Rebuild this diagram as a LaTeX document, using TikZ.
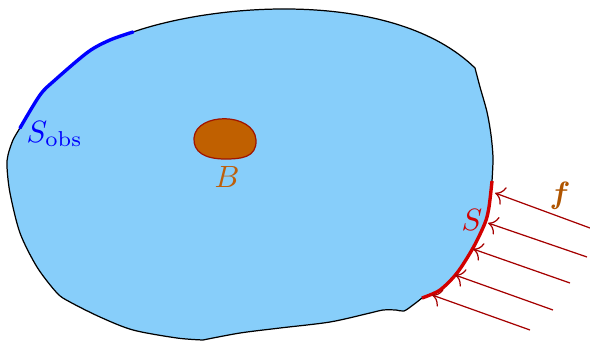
\documentclass[tikz,border=0pt]{standalone}
\usepackage{amsmath}
\usetikzlibrary{arrows.meta}
\definecolor{bodyfill}{RGB}{135,206,250}
\definecolor{blobfill}{RGB}{192,96,0}
\definecolor{blobline}{RGB}{160,20,0}
\definecolor{blabel}{RGB}{190,95,10}
\definecolor{flabel}{RGB}{175,85,0}
\definecolor{sred}{RGB}{210,0,0}
\definecolor{arrred}{RGB}{165,0,0}
\tikzset{
  boundary/.style={line width=0.4pt, draw=black},
  obsline/.style={line width=1.1pt, draw=blue, line cap=round},
  sline/.style={line width=1.1pt, draw=sred},
  force/.style={line width=0.4pt, draw=arrred, -{To[length=3pt,width=6pt]}},
}
\begin{document}
\begin{tikzpicture}[x=0.325pt,y=-0.325pt]
\useasboundingbox (0,0) rectangle (590,341);
% body
\path[boundary, fill=bodyfill]
  (133,32) .. controls (220,2) and (395,-10) .. (475,68)
  -- plot[smooth] coordinates {(475,68) (480,87) (487,112) (491,135) (493,158) (492,181)}
  -- plot[smooth] coordinates {(492,181) (489,207) (485,223) (473,248) (457,273) (440,290) (422,298)}
  -- plot[smooth] coordinates {(422,298) (413,305) (404,311) (396,310) (383,310) (370,313) (330,322) (280,328) (240,333) (203,340)}
  -- plot[smooth] coordinates {(203,340) (177,338) (133,330) (100,317) (70,302) (57,293) (37,267) (20,233) (10,193) (7,167) (8,155) (13,140) (20,128)}
  -- plot[smooth] coordinates {(20,128) (40,95) (55,80) (88,52) (110,40) (133,32)}
  -- cycle;
% observed part
\draw[obsline] plot[smooth] coordinates {(20,128) (40,95) (55,80) (88,52) (110,40) (133,32)};
% loaded part
\draw[sline] plot[smooth] coordinates {(492,181) (489,207) (485,223) (473,248) (457,273) (440,290) (422,298)};
% inclusion B
\path[fill=blobfill, draw=blobline, line width=0.4pt]
  (194,138) .. controls (196,112) and (254,112) .. (256,140)
  .. controls (257,158) and (240,159) .. (225,159)
  .. controls (205,159) and (193,152) .. (194,138) -- cycle;
% labels
\node[text=blue, anchor=west, inner sep=0pt] (lobs) at (26,134) {$S_{\mathrm{obs}}$};
\node[text=blabel, inner sep=0pt] (lB) at (227,177) {$B$};
\node[text=sred, inner sep=0pt] (lS) at (472,220) {$S$};
\node[text=flabel, inner sep=0pt] (lf) at (560,196) {$\boldsymbol{f}$};
% forces
\coordinate (t1) at (495,193); \coordinate (s1) at (590,228);
\coordinate (t2) at (488,223); \coordinate (s2) at (587,257);
\coordinate (t3) at (473,249); \coordinate (s3) at (570,283);
\coordinate (t4) at (455,275); \coordinate (s4) at (553,310);
\coordinate (t5) at (432,295); \coordinate (s5) at (530,330);
\foreach \i in {1,...,5} {\draw[force] (s\i) -- (t\i);}
\end{tikzpicture}
\end{document}
